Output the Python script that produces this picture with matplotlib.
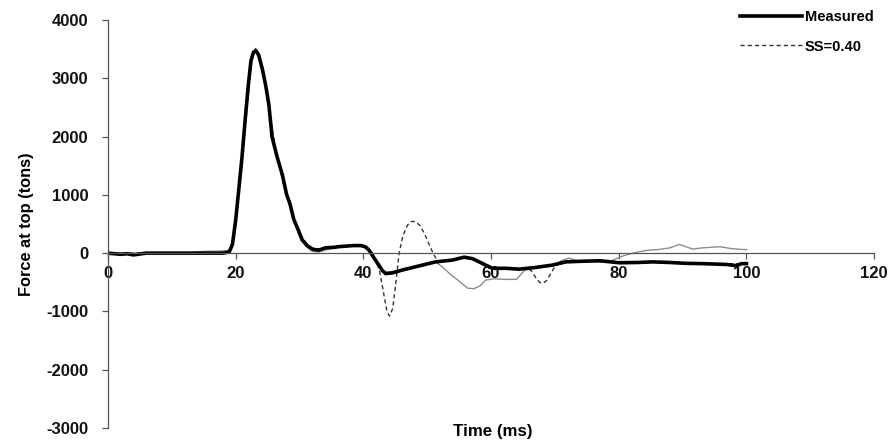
import matplotlib.pyplot as plt
import numpy as np

plt.rcParams['font.family'] = ['Liberation Sans', 'DejaVu Sans']
plt.rcParams['font.weight'] = 'bold'
plt.rcParams['axes.unicode_minus'] = False

# measured force at pile top
t_meas = [0, 1, 2, 3, 4, 6, 10, 15, 18, 19, 19.5, 20, 20.5, 21, 21.5, 22, 22.4,
          22.8, 23.2, 23.6, 24.2, 24.7, 25.2, 25.7, 26.1, 26.5, 27.3, 28.0, 28.5,
          29.1, 29.8, 30.4, 31.2, 32.0, 33.0, 34.0, 34.6, 35.5, 36.0, 37.2, 38.5,
          39.6, 40.3, 40.9, 41.9, 43.0, 43.5, 44.5, 46.1, 48.7, 51.3, 53.9, 55.0,
          55.8, 57.1, 58.6, 60.2, 62.3, 64.4, 67.0, 69.6, 71.7, 74, 77, 80.1, 83,
          85.3, 88, 90.5, 93, 95.8, 97, 98.4, 99.2, 100]
f_meas = [0, -10, -20, -10, -30, 0, 0, 0, 0, 20, 150, 560, 1100, 1650, 2300, 2900,
          3300, 3450, 3470, 3400, 3150, 2880, 2550, 2000, 1820, 1650, 1350, 1000,
          850, 580, 400, 230, 130, 70, 50, 90, 95, 100, 110, 120, 130, 130, 110,
          50, -120, -300, -350, -340, -290, -220, -150, -120, -90, -70, -95, -175,
          -260, -260, -275, -245, -205, -150, -140, -130, -165, -160, -150, -160,
          -175, -180, -190, -195, -215, -180, -180]

# computed, SS=0.40
t_ss = [0, 5, 10, 15, 19, 19.6, 20.2, 21, 21.8, 22.5, 23.1, 23.7, 24.5, 25.5,
        26.5, 27.5, 28.5, 29.5, 30.5, 31.5, 32.5, 34, 36, 38, 40, 41, 41.8, 42.5,
        43.2, 43.7, 44.1, 44.6, 45.1, 45.6, 46.2, 46.9, 47.6, 48.2, 48.9, 49.6,
        50.3, 51.0, 51.6, 53, 55, 57, 59, 60.5, 63, 65.5, 66.3, 67.0, 67.6, 68.1,
        68.7, 69.3, 70.0, 70.8, 72, 76, 80, 85, 90, 95, 100]
f_ss = [0, 0, 0, 0, 10, 200, 700, 1600, 2500, 3300, 3510, 3400, 2980, 2280, 1640,
        1200, 820, 480, 260, 110, 60, 90, 110, 130, 130, 70, -100, -280, -700,
        -1000, -1080, -950, -500, 0, 300, 480, 545, 540, 470, 330, 150, -20, -130,
        -130, -80, -90, -180, -260, -265, -255, -300, -420, -500, -520, -470,
        -360, -230, -170, -150, -135, -160, -155, -165, -185, -180]

# second computed trace (thin grey)
t_grey = [0, 5, 10, 13, 15, 17, 18.5, 19.3, 20, 21, 22, 22.6, 23.2, 24, 25, 26,
          27, 28, 29, 30, 31, 32, 33, 35, 37, 39, 40.5, 41.5, 42.5, 43.5, 46, 49,
          51.3, 52.3, 53.5, 55, 56.3, 57.3, 58.3, 59.2, 60.5, 62, 64, 65.2, 66.5,
          68, 70, 71, 72.2, 73.5, 76, 78.5, 80.1, 81.5, 83, 84.5, 86, 88, 89.5,
          90.5, 91.6, 93, 95.8, 97.5, 99, 100]
f_grey = [0, 0, 0, 10, 30, 35, 40, 60, 500, 1600, 2900, 3400, 3490, 3230, 2660,
          1870, 1440, 990, 600, 300, 120, 30, 20, 80, 110, 130, 120, -50, -250,
          -330, -290, -220, -150, -230, -350, -480, -600, -610, -560, -460, -440,
          -450, -450, -300, -250, -230, -200, -130, -85, -130, -150, -150, -70,
          -20, 20, 50, 60, 90, 150, 110, 70, 90, 110, 80, 65, 60]

fig = plt.figure(figsize=(8.92, 4.44), dpi=100)
ax = fig.add_axes([0.121, 0.036, 0.859, 0.919])

ax.plot(t_grey, f_grey, color='#8c8c8c', lw=1.0)
ax.plot(t_ss, f_ss, color='#333333', lw=1.0, ls=(0, (3, 2.2)), label='SS=0.40')
ax.plot(t_meas, f_meas, color='black', lw=2.6, label='Measured')

ax.set_xlim(0, 120)
ax.set_ylim(-3000, 4000)
ax.set_xticks(np.arange(0, 121, 20))
ax.set_yticks(np.arange(-3000, 4001, 1000))

ax.spines['top'].set_visible(False)
ax.spines['right'].set_visible(False)
ax.spines['bottom'].set_position(('data', 0))
for side in ('bottom', 'left'):
    ax.spines[side].set_color('#555555')
    ax.spines[side].set_linewidth(0.9)
ax.tick_params(axis='both', direction='out', length=4, width=0.9,
               colors='#555555', labelcolor='#111111', labelsize=12)
ax.tick_params(axis='x', pad=5)
ax.tick_params(axis='y', pad=10)

ax.set_ylabel('Force at top (tons)', fontsize=11.8, fontweight='bold')
ax.yaxis.set_label_coords(-0.096, 0.5)
fig.text(493 / 892, 1 - 431 / 444, 'Time (ms)', ha='center', va='center',
         fontsize=12.2, fontweight='bold')

h, l = ax.get_legend_handles_labels()
ax.legend(h[::-1], l[::-1], loc='upper right', bbox_to_anchor=(1.016, 1.056),
          frameon=False, handlelength=4.2, handletextpad=0.2, labelspacing=1.05,
          fontsize=10.5)

fig.savefig('out.png', dpi=100)
